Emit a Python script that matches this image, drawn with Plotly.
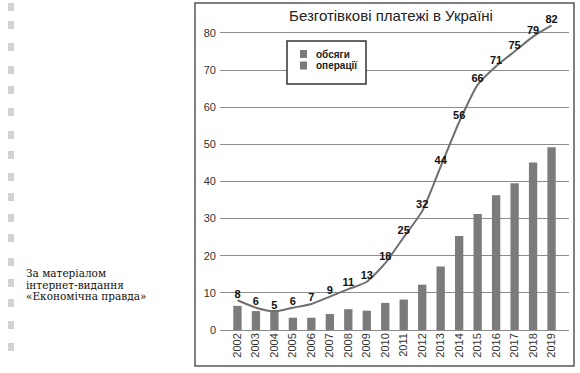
import plotly.graph_objects as go

years = ["2002", "2003", "2004", "2005", "2006", "2007", "2008", "2009", "2010",
         "2011", "2012", "2013", "2014", "2015", "2016", "2017", "2018", "2019"]
obsyahy = [6.5, 5.1, 5.4, 3.3, 3.3, 4.3, 5.6, 5.2, 7.3,
           8.2, 12.2, 17.1, 25.3, 31.2, 36.3, 39.5, 45.1, 49.2]
operatsii = [8, 6, 5, 6, 7, 9, 11, 13, 18, 25, 32, 44, 56, 66, 71, 75, 79, 82]
y_ticks = [0, 10, 20, 30, 40, 50, 60, 70, 80]

title = "Безготівкові платежі в Україні"
legend_names = ["обсяги", "операції"]
source_lines = ["За матеріалом", "інтернет-видання", "«Економічна правда»"]

W, H = 580, 373
L, R, T, B = 220, 11, 18, 43
pw, ph = W - L - R, H - T - B


def px(x):
    return (x - L) / pw


def py(y):
    return (H - B - y) / ph


BAR_C = "#7b7b7b"
LINE_C = "#6f6f6f"
SANS = "Liberation Sans, Arial, sans-serif"

fig = go.Figure()
fig.add_trace(go.Bar(x=years, y=obsyahy, name=legend_names[0],
                     marker=dict(color=BAR_C, line=dict(width=0)),
                     showlegend=False))
fig.add_trace(go.Scatter(x=years, y=operatsii, name=legend_names[1],
                         mode="lines+text", text=[str(v) for v in operatsii],
                         textposition="top center",
                         textfont=dict(family=SANS, size=11, color="#111", weight="bold"),
                         line=dict(color=LINE_C, width=2, shape="spline", smoothing=0.6),
                         cliponaxis=False, showlegend=False))

shapes = []
# chart frame
shapes.append(dict(type="rect", xref="paper", yref="paper",
                   x0=px(195), x1=px(574), y0=py(366), y1=py(3),
                   line=dict(color="#555", width=1.5), layer="below"))
# legend box
shapes.append(dict(type="rect", xref="paper", yref="paper",
                   x0=px(287), x1=px(366), y0=py(84), y1=py(41),
                   line=dict(color="#333", width=1.5), fillcolor="white"))
for yc in (54, 65.5):
    shapes.append(dict(type="rect", xref="paper", yref="paper",
                       x0=px(300), x1=px(307), y0=py(yc + 4), y1=py(yc - 4),
                       line=dict(width=0), fillcolor=BAR_C))
# binder dots
for yd in [7, 25, 47, 70, 90, 112, 135, 155, 177, 197, 218, 238, 262, 283, 303, 325, 347]:
    shapes.append(dict(type="rect", xref="paper", yref="paper",
                       x0=px(8), x1=px(14), y0=py(yd + 4), y1=py(yd - 4),
                       line=dict(width=0), fillcolor="#d2d2d2"))

annotations = []
for name, yc in zip(legend_names, (54, 65.5)):
    annotations.append(dict(text=name, xref="paper", yref="paper", x=px(314), y=py(yc),
                            xanchor="left", yanchor="middle", showarrow=False,
                            font=dict(family=SANS, size=10, color="#222", weight="bold")))
for line, yc in zip(source_lines, (273, 284.5, 296)):
    annotations.append(dict(text=line, xref="paper", yref="paper", x=px(24), y=py(yc),
                            xanchor="left", yanchor="middle", showarrow=False,
                            font=dict(family="DejaVu Serif, serif", size=10.5, color="#111")))

fig.update_layout(
    width=W, height=H,
    margin=dict(l=L, r=R, t=T, b=B, pad=0),
    paper_bgcolor="white", plot_bgcolor="white",
    title=dict(text=title, x=391 / W, xanchor="center", xref="container",
               y=1 - 16 / H, yanchor="middle", yref="container",
               font=dict(family=SANS, size=15, color="#222")),
    bargap=0.55,
    shapes=shapes, annotations=annotations,
    xaxis=dict(type="category", tickangle=-90, showgrid=False, showline=False,
               ticks="", tickfont=dict(family=SANS, size=11, color="#333")),
    yaxis=dict(range=[0, 84], tickvals=y_ticks, showgrid=True, gridcolor="#8c8c8c",
               gridwidth=1, zeroline=True, zerolinecolor="#8c8c8c", zerolinewidth=1,
               showline=False, ticks="", ticklabelstandoff=3,
               tickfont=dict(family=SANS, size=11, color="#333")),
    showlegend=False,
)

fig.write_html("out.html", config={"displayModeBar": False},
               post_script="document.body.style.margin='0';document.body.style.overflow='hidden';")
